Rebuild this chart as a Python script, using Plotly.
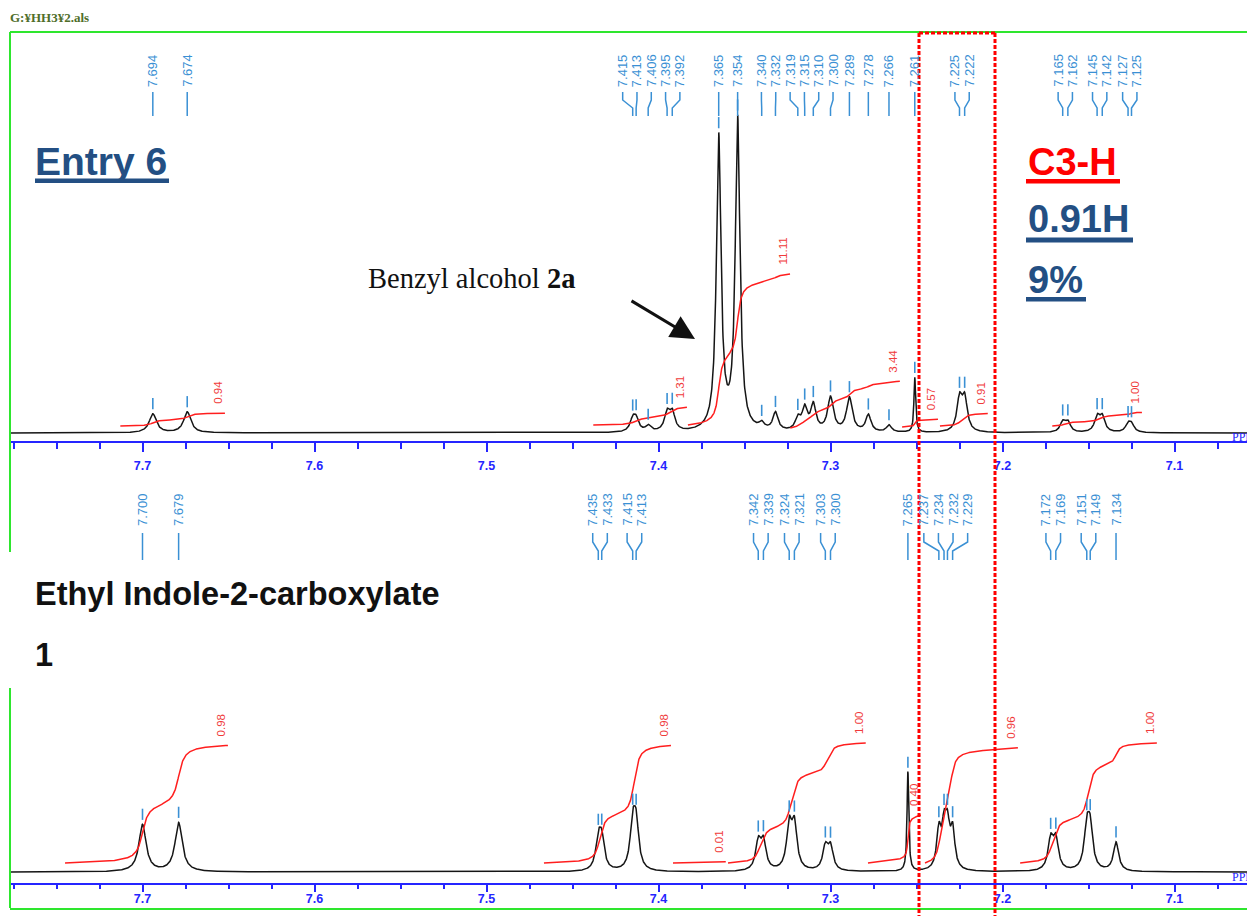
import numpy as np
import plotly.graph_objects as go

W, H = 1255, 916
OFF = 8                      # page body margin of the written html
FW, FH = W - OFF, H - OFF    # figure size so the page fits the window

# ---------------- data ----------------
# Top spectrum: "Entry 6" – picked peaks (ppm), label text, peak amplitude (a.u.), half width (ppm)
top_ppm = [7.694, 7.674, 7.415, 7.413, 7.406, 7.395, 7.392, 7.365, 7.354,
           7.340, 7.332, 7.319, 7.315, 7.310, 7.300, 7.289, 7.278, 7.266,
           7.251, 7.225, 7.222, 7.165, 7.162, 7.145, 7.142, 7.127, 7.125]
top_labels = ["7.694", "7.674", "7.415", "7.413", "7.406", "7.395", "7.392", "7.365", "7.354",
              "7.340", "7.332", "7.319", "7.315", "7.310", "7.300", "7.289", "7.278", "7.266",
              "7.261", "7.225", "7.222", "7.165", "7.162", "7.145", "7.142", "7.127", "7.125"]
top_amp = [19, 21, 11.7, 11.7, 6, 18, 18, 294, 312,
           6, 18, 12, 22, 26, 34, 34, 17, 7,
           55, 32, 32, 10, 10, 15, 15, 7.5, 7.5]
top_hw = [0.0025, 0.0025, 0.0018, 0.0018, 0.0018, 0.0018, 0.0018, 0.0016, 0.0016,
          0.0018, 0.0018, 0.0018, 0.0018, 0.0018, 0.0020, 0.0020, 0.0018, 0.0018,
          0.0006, 0.0018, 0.0018, 0.0018, 0.0018, 0.0018, 0.0018, 0.0018, 0.0018]

# Top integrals: region start / end (ppm), value, start level (a.u.)
top_int_from = [7.713, 7.438, 7.383, 7.3235, 7.2584, 7.2364, 7.1712]
top_int_to = [7.652, 7.3834, 7.3235, 7.2596, 7.2375, 7.2085, 7.1188]
top_int_value = [0.94, 1.31, 11.11, 3.44, 0.57, 0.91, 1.00]
top_int_base = [7, 8, 8, 5, 6, 7, 7]
top_int_unit = 13.6

# Bottom spectrum: "Ethyl Indole-2-carboxylate 1"
bot_ppm = [7.700, 7.679, 7.435, 7.433, 7.415, 7.413, 7.342, 7.339, 7.324, 7.321,
           7.303, 7.300, 7.255, 7.237, 7.234, 7.232, 7.229, 7.172, 7.169,
           7.151, 7.149, 7.134]
bot_labels = ["7.700", "7.679", "7.435", "7.433", "7.415", "7.413", "7.342", "7.339", "7.324", "7.321",
              "7.303", "7.300", "7.265", "7.237", "7.234", "7.232", "7.229", "7.172", "7.169",
              "7.151", "7.149", "7.134"]
bot_amp = [47, 49, 29, 29, 43, 43, 27.7, 27.7, 43.5, 43.5,
           23, 23, 100, 38, 38, 38, 38, 30, 30,
           39, 39, 29]
bot_hw = [0.0025, 0.0025, 0.0018, 0.0018, 0.0018, 0.0018, 0.0018, 0.0018, 0.0018, 0.0018,
          0.0018, 0.0018, 0.0006, 0.0015, 0.0015, 0.0015, 0.0015, 0.0018, 0.0018,
          0.0018, 0.0018, 0.0018]

bot_int_from = [7.7451, 7.4666, 7.3916, 7.3596, 7.2783, 7.2451, 7.1898]
bot_int_to = [7.6503, 7.3927, 7.3608, 7.2794, 7.2474, 7.1910, 7.1102]
bot_int_value = [0.98, 0.98, 0.01, 1.00, 0.40, 0.96, 1.00]
bot_int_base = [9, 9, 9, 9, 9, 9, 9]
bot_int_unit = 120.0

axis_ticks = [7.7, 7.6, 7.5, 7.4, 7.3, 7.2, 7.1]

# ---------------- layout helpers (positions given in window pixels) ----------------
def X(px):
    return (px - OFF) / FW


def Y(py):
    return 1 - (py - OFF) / FH


PX_77 = 142.5          # pixel of 7.7 ppm
PX_PER_PPM = 1720.0
X_LEFT, X_RIGHT = 10, W
ppm_left = 7.7 + (PX_77 - X_LEFT) / PX_PER_PPM
ppm_right = 7.7 - (X_RIGHT - PX_77) / PX_PER_PPM


def to_px(p):
    return X_LEFT + (ppm_left - p) / (ppm_left - ppm_right) * (X_RIGHT - X_LEFT)


def to_ppm(px):
    return ppm_left - (px - X_LEFT) / (X_RIGHT - X_LEFT) * (ppm_left - ppm_right)


BLUE_AX = "#2525ff"
LBLUE = "#3a90d4"
RED = "#ff1e1e"
RED_LAB = "#f03a3a"
DKBLUE = "#234f83"
GREEN = "#2ee62e"
SANS = "Liberation Sans, Arial, sans-serif"
SERIF = "Liberation Serif, Times New Roman, serif"

grid = np.linspace(ppm_left, ppm_right, 5000)


def spectrum(ppm, amp, hw):
    s = np.zeros_like(grid)
    for p, a, w in zip(ppm, amp, hw):
        s += a * w ** 2 / ((grid - p) ** 2 + w ** 2)
    return s


def integral(spec, p_from, p_to, base, rise):
    m = (grid <= p_from) & (grid >= p_to)
    g = grid[m]
    s = spec[m]
    c = np.concatenate([[0.0], np.cumsum((s[1:] + s[:-1]) / 2 * np.abs(np.diff(g)))])
    c = c / c[-1] if c[-1] > 0 else np.linspace(0, 1, len(g))
    return g, base + rise * c


def spread(ppms, gap_px):
    pos = [to_px(p) for p in ppms]
    order = sorted(range(len(pos)), key=lambda i: pos[i])
    clusters = [[i] for i in order]

    def placed(cl):
        c = np.mean([pos[i] for i in cl])
        n = len(cl)
        return [c + (k - (n - 1) / 2) * gap_px for k in range(n)]

    merged = True
    while merged:
        merged = False
        for j in range(len(clusters) - 1):
            if placed(clusters[j + 1])[0] - placed(clusters[j])[-1] < gap_px:
                clusters[j] = clusters[j] + clusters[j + 1]
                del clusters[j + 1]
                merged = True
                break
    out = [0.0] * len(pos)
    for cl in clusters:
        for i, xp in zip(cl, placed(cl)):
            out[i] = to_ppm(xp)
    return out


fig = go.Figure()
shapes = []
annotations = []

panels = [
    dict(xa="x", ya="y", ppm=top_ppm, labels=top_labels, amp=top_amp, hw=top_hw,
         ifrom=top_int_from, ito=top_int_to, ival=top_int_value, ibase=top_int_base,
         iunit=top_int_unit, lab_bottom=89, conn=(92, 100, 108, 116), gap=14.3),
    dict(xa="x2", ya="y2", ppm=bot_ppm, labels=bot_labels, amp=bot_amp, hw=bot_hw,
         ifrom=bot_int_from, ito=bot_int_to, ival=bot_int_value, ibase=bot_int_base,
         iunit=bot_int_unit, lab_bottom=528, conn=(533, 542, 551, 560), gap=14.6),
]

for P in panels:
    spec = spectrum(P["ppm"], P["amp"], P["hw"])
    fig.add_trace(go.Scatter(x=grid, y=spec, mode="lines", xaxis=P["xa"], yaxis=P["ya"],
                             line=dict(color="#151515", width=1.5), hoverinfo="skip"))
    # integrals
    for pf, pt, v, b in zip(P["ifrom"], P["ito"], P["ival"], P["ibase"]):
        g, curve = integral(spec, pf, pt, b, v * P["iunit"])
        fig.add_trace(go.Scatter(x=g, y=curve, mode="lines", xaxis=P["xa"], yaxis=P["ya"],
                                 line=dict(color=RED, width=1.5), hoverinfo="skip"))
        annotations.append(dict(x=pt, y=curve[-1], xref=P["xa"], yref=P["ya"],
                                text=f"{v:.2f}", textangle=-90, showarrow=False,
                                xanchor="center", yanchor="bottom", xshift=-7, yshift=7,
                                font=dict(family=SANS, size=11.5, color=RED_LAB)))
    # peak markers
    pk = np.array(P["ppm"])
    pk_val = np.interp(pk, grid[::-1], spec[::-1])
    fig.add_trace(go.Scatter(x=pk, y=pk_val + 10, mode="markers", xaxis=P["xa"], yaxis=P["ya"],
                             marker=dict(symbol="line-ns", size=8,
                                         line=dict(width=1.6, color=LBLUE)),
                             hoverinfo="skip"))
    # peak labels + connectors
    lab_ppm = spread(P["ppm"], P["gap"])
    y0, y1, y2, y3 = P["conn"]
    for p, lp, txt in zip(P["ppm"], lab_ppm, P["labels"]):
        annotations.append(dict(x=lp, y=Y(P["lab_bottom"]), xref=P["xa"], yref="paper",
                                text=txt, textangle=-90, showarrow=False,
                                xanchor="center", yanchor="bottom",
                                font=dict(family=SANS, size=13, color=LBLUE)))
        shapes.append(dict(type="path", xref=P["xa"], yref="paper",
                           path=f"M {lp},{Y(y0)} L {lp},{Y(y1)} L {p},{Y(y2)} L {p},{Y(y3)}",
                           line=dict(color=LBLUE, width=1.5)))

# ---------------- frame lines ----------------
def seg(x0, y0, x1, y1, color, width, dash="solid"):
    shapes.append(dict(type="line", xref="paper", yref="paper", x0=X(x0), y0=Y(y0),
                       x1=X(x1), y1=Y(y1), line=dict(color=color, width=width, dash=dash)))


seg(10, 32, 1255, 32, GREEN, 2)
seg(10, 32, 10, 552, GREEN, 2)
seg(10, 688, 10, 908, GREEN, 2)
seg(10, 909, 1255, 909, GREEN, 2)

# red dotted highlight box
seg(919, 33, 919, 916, "#ff0000", 3, "4px,2px")
seg(995, 33, 995, 916, "#ff0000", 3, "4px,2px")
seg(919, 33, 995, 33, "#ff0000", 3, "4px,2px")

# underlines
def bar(x0, y0, x1, y1, color):
    shapes.append(dict(type="rect", xref="paper", yref="paper", x0=X(x0), y0=Y(y0),
                       x1=X(x1), y1=Y(y1), fillcolor=color, line=dict(width=0)))


bar(35, 178.5, 169, 183, DKBLUE)
bar(1026, 179, 1120, 183.5, "#ff0000")
bar(1026, 237.5, 1133, 242.5, DKBLUE)
bar(1026, 297, 1086, 301.5, DKBLUE)


def text(t, x, y, size, color, family=SANS, xanchor="left", bold=True):
    annotations.append(dict(x=X(x), y=Y(y), xref="paper", yref="paper", text=t,
                            showarrow=False, xanchor=xanchor, yanchor="middle",
                            font=dict(family=family, size=size, color=color,
                                      weight="bold" if bold else "normal")))


text("G:¥HH3¥2.als", 8, 18, 13, "#4f6e2a", SERIF)
text("Entry 6", 33, 161, 39, DKBLUE)
text("C3-H", 1026, 161.5, 38, "#ff0000")
text("0.91H", 1026, 218.5, 38, DKBLUE)
text("9%", 1026, 280, 38, DKBLUE)
text("Ethyl Indole-2-carboxylate", 33, 594, 32.5, "#111111")
text("1", 33, 655, 32.5, "#111111")
text("Benzyl alcohol <b>2a</b>", 366, 278, 28.5, "#111111", SERIF, bold=False)
text("PPM", 1230, 437, 12, BLUE_AX, SERIF, bold=False)
text("PPM", 1230, 877, 12, BLUE_AX, SERIF, bold=False)

# arrow
annotations.append(dict(x=X(695), y=Y(339), xref="paper", yref="paper", text="",
                        showarrow=True, ax=630 - 695, ay=300 - 339, axref="pixel", ayref="pixel",
                        arrowhead=2, arrowsize=1.6, arrowwidth=3, arrowcolor="#111111",
                        standoff=0, startstandoff=0))

# ---------------- axes ----------------
def xaxis(anchor, ticklen, standoff):
    return dict(domain=[X(X_LEFT), X(X_RIGHT)], range=[ppm_left, ppm_right], anchor=anchor,
                showline=True, linecolor=BLUE_AX, linewidth=2,
                ticks="outside", ticklen=ticklen, tickwidth=1.5, tickcolor=BLUE_AX,
                tickmode="array", tickvals=axis_ticks,
                ticktext=[f"{t:.1f}" for t in axis_ticks],
                tickfont=dict(family=SANS, size=12.5, color=BLUE_AX, weight="bold"),
                ticklabelstandoff=standoff,
                minor=dict(dtick=0.025, tick0=7.0, ticks="outside", ticklen=ticklen - 3,
                           tickwidth=1.5, tickcolor=BLUE_AX, showgrid=False),
                showgrid=False, zeroline=False, fixedrange=True)


fig.update_layout(
    width=FW, height=FH, margin=dict(l=0, r=0, t=0, b=0),
    paper_bgcolor="white", plot_bgcolor="white", showlegend=False,
    xaxis=xaxis("y", 9, 3),
    xaxis2=xaxis("y2", 7, -4),
    yaxis=dict(domain=[Y(441), Y(32)], range=[-8, 401], visible=False, fixedrange=True),
    yaxis2=dict(domain=[Y(883), Y(480)], range=[-11, 392], visible=False, fixedrange=True),
    shapes=shapes, annotations=annotations,
)

fig.write_html("out.html")
